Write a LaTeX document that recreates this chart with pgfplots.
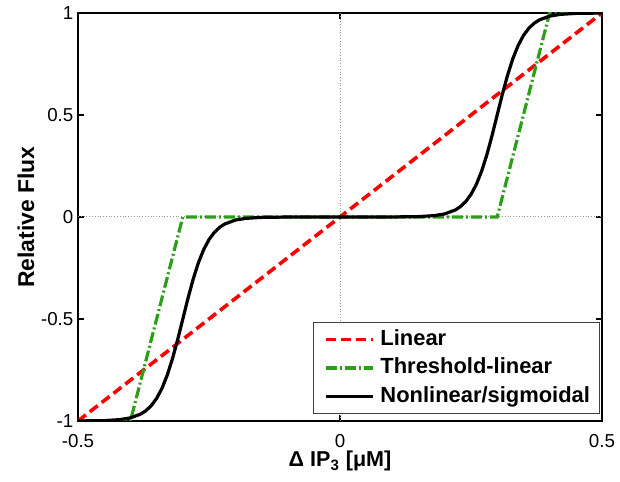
\documentclass[border=0pt]{standalone}
\usepackage{fontspec}
\setmainfont{Liberation Sans}
\usepackage{pgfplots}
\pgfplotsset{compat=1.18}
\definecolor{mlgreen}{RGB}{45,158,25}
\begin{document}
\begin{tikzpicture}
\begin{axis}[
  scale only axis,
  width=262bp, height=204bp,
  xmin=-0.5, xmax=0.5, ymin=-1, ymax=1,
  xtick={-0.5,0,0.5}, ytick={-1,-0.5,0,0.5,1},
  xticklabels={-0.5,0,0.5}, yticklabels={-1,-0.5,0,0.5,1},
  tick align=inside, major tick length=3bp,
  axis line style={line width=0.8bp},
  every tick/.style={black, line width=0.7bp},
  tick label style={font=\fontsize{9.4}{11}\selectfont},
  xticklabel style={yshift=-3bp},
  yticklabel style={xshift=1.2bp},
  /pgf/number format/assume math mode=true,
  xlabel={\bfseries Δ IP\textsubscript{3} [μM]},
  ylabel={\bfseries Relative Flux},
  xlabel style={font=\fontsize{10.8}{12}\selectfont, at={(axis description cs:0.5,-0.1127)}, anchor=base},
  ylabel style={font=\fontsize{11.5}{13}\selectfont, at={(axis description cs:-0.0992,0.5)}, anchor=center},
  extra x ticks={0}, extra y ticks={0},
  extra x tick labels={}, extra y tick labels={},
  extra tick style={grid=major, major grid style={densely dotted, gray!80, line width=0.5bp}, major tick length=0pt},
  legend cell align=left,
  legend style={at={(rel axis cs:0.997,0.017)}, anchor=south east,
    draw=black!75, line width=0.5bp, font=\fontsize{11}{13}\selectfont\bfseries,
    nodes={inner sep=0pt, text height=8bp, text depth=2.3bp},
    row sep=3.95bp, column sep=3bp, inner xsep=5bp, inner ysep=3.4bp},
  legend image code/.code={\draw[#1] (0bp,0bp) -- (23.5bp,0bp);},
]
\coordinate (SW) at (rel axis cs:0,0);
\coordinate (NE) at (rel axis cs:1,1);
\addplot[red, line width=1.8bp, dash pattern=on 5bp off 2.5bp] coordinates {(-0.5,-1) (0.5,1)};
\addlegendentry{Linear}
\addplot[mlgreen, line width=1.6bp, dash pattern=on 5.5bp off 1.5bp on 1bp off 1.5bp] coordinates {(-0.5,-1) (-0.4,-1) (-0.3,0) (0.3,0) (0.4,1) (0.5,1)};
\addlegendentry{Threshold-linear}
\addplot[black, line width=1.6bp] coordinates {
(-0.50,-0.9998) (-0.45,-0.9981) (-0.42,-0.9933) (-0.40,-0.9847) (-0.38,-0.9656) (-0.37,-0.9487) (-0.36,-0.9241) (-0.35,-0.8893) (-0.34,-0.8411) (-0.33,-0.7773) (-0.32,-0.6971) (-0.31,-0.6027) (-0.30,-0.5) (-0.29,-0.3973) (-0.28,-0.3029) (-0.27,-0.2227) (-0.26,-0.1589) (-0.25,-0.1107) (-0.24,-0.0759) (-0.23,-0.0513) (-0.22,-0.0344) (-0.20,-0.0153) (-0.18,-0.0067) (-0.15,-0.0019) (-0.10,-0.0002) (0,0)
(0.10,0.0002) (0.15,0.0019) (0.18,0.0067) (0.20,0.0153) (0.22,0.0344) (0.23,0.0513) (0.24,0.0759) (0.25,0.1107) (0.26,0.1589) (0.27,0.2227) (0.28,0.3029) (0.29,0.3973) (0.30,0.5) (0.31,0.6027) (0.32,0.6971) (0.33,0.7773) (0.34,0.8411) (0.35,0.8893) (0.36,0.9241) (0.37,0.9487) (0.38,0.9656) (0.40,0.9847) (0.42,0.9933) (0.45,0.9981) (0.50,0.9998)};
\addlegendentry{Nonlinear/sigmoidal}
\end{axis}
\pgfresetboundingbox
\path ([shift={(-39bp,-30.5bp)}]SW) rectangle ([shift={(9bp,6.5bp)}]NE);
\end{tikzpicture}
\end{document}
